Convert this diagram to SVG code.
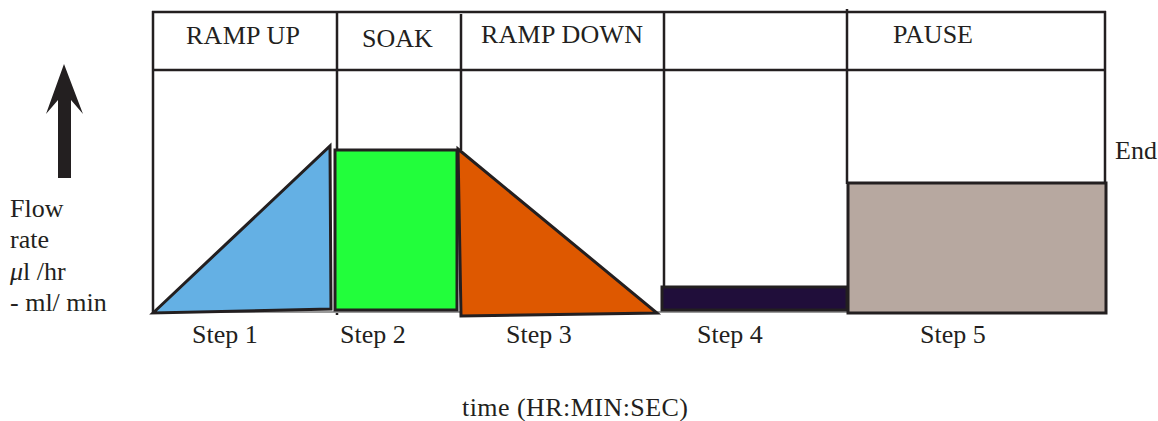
<svg xmlns="http://www.w3.org/2000/svg" width="1158" height="421" viewBox="0 0 1158 421">
<style>
text{font-family:"Liberation Serif","Times New Roman",serif;font-size:26px;fill:#231f20}
.ln{stroke:#231f20;stroke-width:2.5;fill:none}
.sh{stroke:#231f20;stroke-width:3;stroke-linejoin:miter}
</style>
<rect width="1158" height="421" fill="#fff"/>
<g id="frame">
<line class="ln" x1="152" y1="12" x2="1106" y2="12"/>
<line class="ln" x1="152" y1="70" x2="1106" y2="70"/>
<line class="ln" x1="153" y1="11" x2="153" y2="313"/>
<line class="ln" x1="337" y1="11" x2="337" y2="315"/>
<line class="ln" x1="461" y1="14" x2="461" y2="150"/>
<line class="ln" x1="664" y1="11" x2="664" y2="287"/>
<line class="ln" x1="847" y1="9" x2="847" y2="184"/>
<line class="ln" x1="1105" y1="11" x2="1105" y2="184"/>
<line x1="153" y1="312" x2="848" y2="312" stroke="#9a9a9a" stroke-width="2"/>
</g>
<g id="headers">
<text x="186" y="44" textLength="114">RAMP UP</text>
<text x="362" y="47">SOAK</text>
<text x="481" y="43" textLength="162">RAMP DOWN</text>
<text x="893" y="43">PAUSE</text>
</g>
<g id="step1"><polygon class="sh" points="153,313 330,146 331,309" fill="#64b0e4"/><text x="192" y="343">Step 1</text></g>
<g id="step2"><rect class="sh" x="335" y="150" width="122" height="160" fill="#22fe3b"/><text x="340" y="343">Step 2</text></g>
<g id="step3"><polygon class="sh" points="458,149 657,313 461,316" fill="#de5800"/><text x="506" y="343">Step 3</text></g>
<g id="step4"><rect class="sh" x="662" y="287" width="185" height="23" fill="#200e3a"/><text x="697" y="343">Step 4</text></g>
<g id="step5"><rect class="sh" x="848" y="183" width="258" height="130" fill="#b7a8a0"/><text x="920" y="343">Step 5</text></g>
<g id="end"><text x="1115" y="159">End</text></g>
<g id="yaxis">
<polygon points="64,64 83,114 71,100 71,178 58,178 58,100 46,114" fill="#231f20"/>
<text x="10" y="217">Flow</text>
<text x="10" y="248">rate</text>
<text x="10" y="280"><tspan font-style="italic">μ</tspan>l /hr</text>
<text x="10" y="311">- ml/ min</text>
</g>
<g id="xaxis"><text x="462" y="416" textLength="226">time (HR:MIN:SEC)</text></g>
</svg>
